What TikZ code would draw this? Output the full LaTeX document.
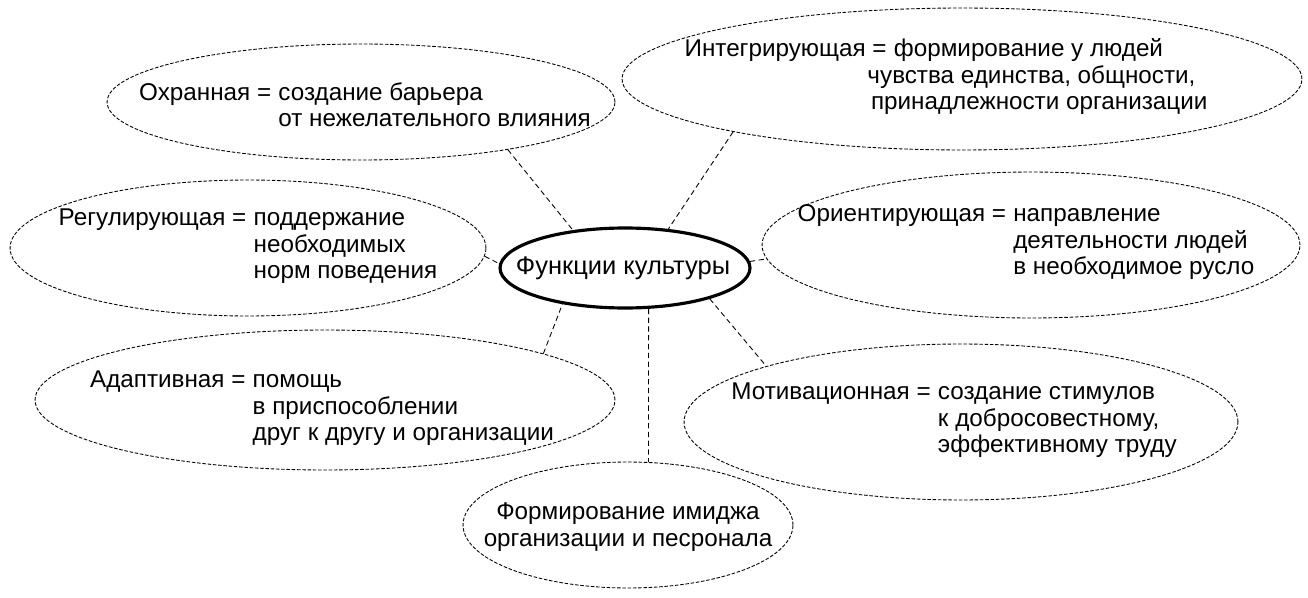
\documentclass[tikz,border=0pt]{standalone}
\usepackage{fontspec}
\setmainfont{Liberation Sans}
\usetikzlibrary{shapes.geometric}

\begin{document}
\begin{tikzpicture}[x=0.02cm, y=-0.02cm,
    fbox/.style={ellipse, draw, line width=0.5pt, dash pattern=on 2pt off 1pt, inner sep=0pt},
    ftext/.style={inner sep=0pt, font=\fontsize{13.8}{15}\selectfont},
    link/.style={line width=0.5pt, dash pattern=on 3pt off 2pt}]
  \useasboundingbox (0,0) rectangle (1308,598);

  % centre
  \node (fk) [ellipse, draw, line width=1.8pt, inner sep=0pt,
        minimum width=5cm, minimum height=1.6cm] at (625,268) {};
  \node (fk-t) [inner sep=0pt, font=\fontsize{14.5}{16}\selectfont] at (623,268) {Функции культуры};

  % functions
  \node (okh) [fbox, minimum width=10.16cm, minimum height=2.32cm] at (361,102) {};
  \node (okh-t) [ftext] at (365,108) {\begin{tabular}{@{}l@{}l@{}}
      Охранная =\kern.3em & создание барьера\\
                          & от нежелательного влияния
    \end{tabular}};

  \node (int) [fbox, minimum width=13.6cm, minimum height=2.84cm] at (962,79) {};
  \node (int-t) [ftext] at (946,78) {\begin{tabular}{@{}l@{}l@{}}
      Интегрирующая =\kern.3em & формирование у людей\\
                               & \hspace*{-15pt}чувства единства, общности,\\
                               & \hspace*{-13pt}принадлежности организации
    \end{tabular}};

  \node (reg) [fbox, minimum width=9.52cm, minimum height=2.72cm] at (248,248) {};
  \node (reg-t) [ftext] at (248,247) {\begin{tabular}{@{}l@{}l@{}}
      Регулирующая =\kern.3em & поддержание\\
                              & необходимых\\
                              & норм поведения
    \end{tabular}};

  \node (ori) [fbox, minimum width=10.76cm, minimum height=2.92cm] at (1031,245) {};
  \node (ori-t) [ftext] at (1026,243) {\begin{tabular}{@{}l@{}l@{}}
      Ориентирующая =\kern.3em & направление\\
                               & деятельности людей\\
                               & в необходимое русло
    \end{tabular}};

  \node (ada) [fbox, minimum width=11.6cm, minimum height=2.8cm] at (325,400) {};
  \node (ada-t) [ftext] at (322,409) {\begin{tabular}{@{}l@{}l@{}}
      Адаптивная =\kern.3em & помощь\\
                            & в приспособлении\\
                            & друг к другу и организации
    \end{tabular}};

  \node (mot) [fbox, minimum width=11.08cm, minimum height=3.12cm] at (961,422) {};
  \node (mot-t) [ftext] at (954,421) {\begin{tabular}{@{}l@{}l@{}}
      Мотивационная =\kern.3em & создание стимулов\\
                               & к добросовестному,\\
                               & эффективному труду
    \end{tabular}};

  \node (img) [fbox, minimum width=6.6cm, minimum height=2.52cm] at (628,525) {};
  \node (img-t) [ftext, align=center] at (628,527) {Формирование имиджа\\организации и песронала};

  % connectors
  \draw[link] (okh.-18) -- (fk.144);
  \draw[link] (int.193) -- (fk.42);
  \draw[link] (reg.-2) -- (fk.178);
  \draw[link] (fk.3) -- (ori.183);
  \draw[link] (ada.12) -- (fk.210);
  \draw[link] (fk.-60) -- (img.72);
  \draw[link] (fk.-20) -- (mot.164);
\end{tikzpicture}
\end{document}
